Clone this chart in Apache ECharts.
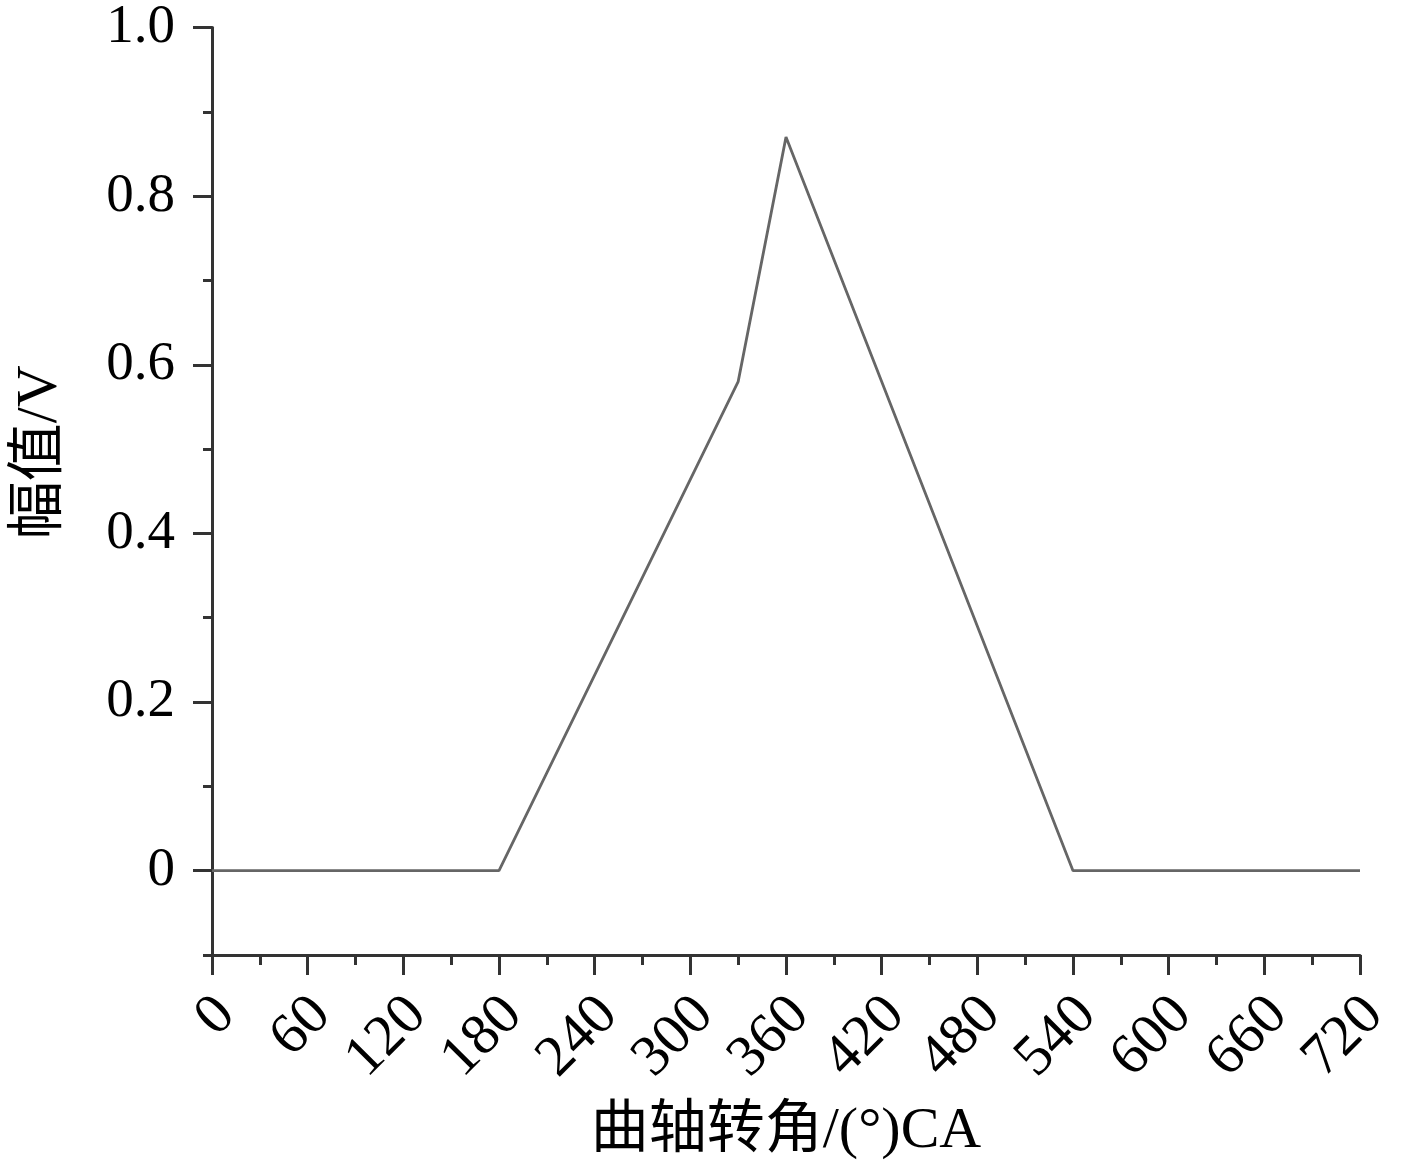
<!DOCTYPE html>
<html>
<head>
<meta charset="utf-8">
<script src="https://cdn.jsdelivr.net/npm/echarts@6/dist/echarts.min.js"></script>
<style>
  html, body { margin: 0; padding: 0; background: #fff; }
  #chart { width: 1417px; height: 1167px; }
</style>
</head>
<body>
<div id="chart"></div>
<script>
// crank angle (°CA) and signal amplitude (V)
const angles = [0, 180, 330, 360, 540, 720];
const amplitudes = [0, 0, 0.58, 0.87, 0, 0];

const yMajor = [0, 0.2, 0.4, 0.6, 0.8, 1.0];
const yMinor = [-0.1, 0.1, 0.3, 0.5, 0.7, 0.9];

const fontFamily = '"Liberation Serif", "Noto Sans CJK SC", serif';
const axisColor = '#333';

const chart = echarts.init(document.getElementById('chart'), null, { renderer: 'canvas' });

const option = {
  backgroundColor: '#fff',
  animation: false,
  grid: { left: 212, right: 57, top: 27, bottom: 212 },
  xAxis: {
    type: 'value',
    min: 0,
    max: 720,
    interval: 60,
    name: '曲轴转角/(°)CA',
    nameLocation: 'middle',
    nameGap: 148,
    nameTextStyle: { fontFamily, fontSize: 58, color: '#000' },
    axisLine: { onZero: false, lineStyle: { color: axisColor, width: 3 } },
    axisTick: { inside: false, length: 20, lineStyle: { color: axisColor, width: 3 } },
    minorTick: { show: true, splitNumber: 2, length: 10, lineStyle: { color: axisColor, width: 3 } },
    splitLine: { show: false },
    axisLabel: {
      rotate: 45,
      margin: 37,
      verticalAlign: 'top',
      lineHeight: 40,
      fontFamily,
      fontSize: 58,
      color: '#000'
    }
  },
  yAxis: [
    {
      type: 'value',
      position: 'left',
      min: -0.1,
      max: 1.0,
      name: '幅值/V',
      nameLocation: 'middle',
      nameGap: 142,
      nameTextStyle: { fontFamily, fontSize: 58, color: '#000', padding: [0, 0, 0, 78] },
      axisLine: { show: true, onZero: false, lineStyle: { color: axisColor, width: 3 } },
      axisTick: { show: true, inside: false, length: 19, customValues: yMajor, lineStyle: { color: axisColor, width: 3 } },
      splitLine: { show: false },
      axisLabel: {
        customValues: yMajor,
        margin: 37,
        fontFamily,
        fontSize: 55,
        color: '#000',
        formatter: v => (Math.abs(v) < 1e-9 ? '0' : v.toFixed(1))
      }
    },
    {
      type: 'value',
      position: 'left',
      offset: 0,
      min: -0.1,
      max: 1.0,
      axisLine: { show: false },
      axisTick: { show: true, inside: false, length: 9, customValues: yMinor, lineStyle: { color: axisColor, width: 3 } },
      splitLine: { show: false },
      axisLabel: { show: false }
    }
  ],
  series: [
    {
      type: 'line',
      data: angles.map((a, i) => [a, amplitudes[i]]),
      symbol: 'none',
      lineStyle: { color: '#666', width: 2.8 }
    }
  ]
};

chart.setOption(option);
</script>
</body>
</html>
